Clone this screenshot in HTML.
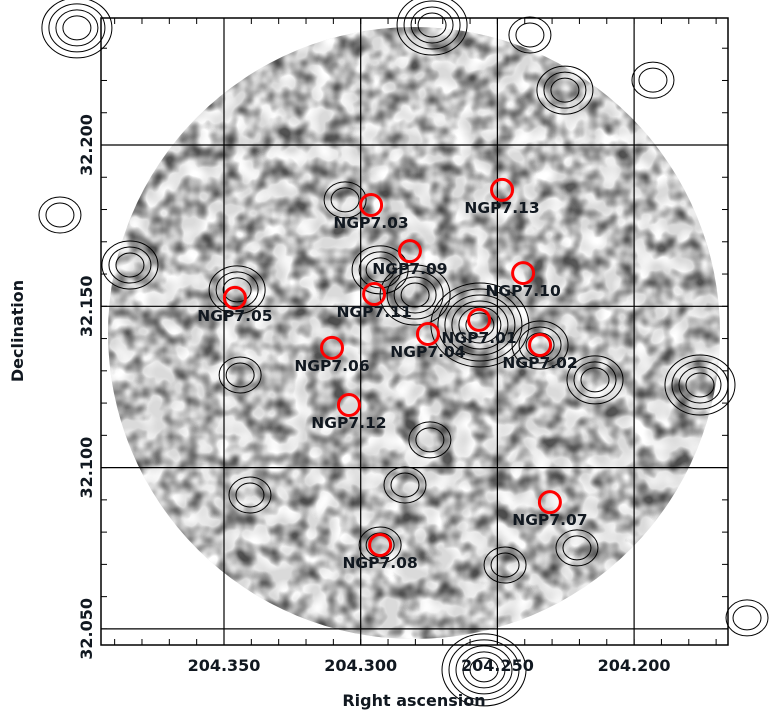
<!DOCTYPE html>
<html><head><meta charset="utf-8"><style>
html,body{margin:0;padding:0;background:#fff;}
svg{display:block;font-family:"DejaVu Sans","Liberation Sans",sans-serif;}
.lbl{font-weight:bold;font-size:15.5px;fill:#111820;}
.tick{font-weight:bold;font-size:16px;fill:#111820;}
</style></head><body>
<svg id="chart" width="775" height="719" viewBox="0 0 775 719">
<defs>
<filter id="noise" x="0" y="0" width="100%" height="100%">
<feTurbulence type="fractalNoise" baseFrequency="0.055" numOctaves="2" seed="11" result="t"/>
<feColorMatrix type="matrix" values="0 0 0 0 0  0 0 0 0 0  0 0 0 0 0  2.6 0 0 0 -1.05" in="t" result="a"/>
<feComposite in="a" in2="SourceGraphic" operator="in"/>
</filter>
<filter id="light" x="0" y="0" width="100%" height="100%">
<feTurbulence type="fractalNoise" baseFrequency="0.06" numOctaves="1" seed="3" result="t"/>
<feColorMatrix type="matrix" values="0 0 0 0 1  0 0 0 0 1  0 0 0 0 1  2.6 0 0 0 -0.9" in="t" result="a"/>
<feComposite in="a" in2="SourceGraphic" operator="in"/>
</filter>
<clipPath id="fr"><rect x="101" y="18" width="627" height="627"/></clipPath>
</defs>
<g id="img" clip-path="url(#fr)">
<circle cx="414" cy="333" r="306" fill="#dadada"/>
<circle cx="414" cy="333" r="306" fill="#fff" filter="url(#light)"/>
<circle cx="414" cy="333" r="306" fill="#fff" filter="url(#noise)" opacity="0.65"/>
</g>
<g id="grid" stroke="#000" stroke-width="1.2"></g>
<g id="contours" fill="none" stroke="#000" stroke-width="1"></g>
<rect x="101" y="18" width="627" height="627" fill="none" stroke="#000" stroke-width="1.5"/>
<g id="ticks" stroke="#000" stroke-width="1"></g>
<g id="ticklabels"></g>
<g id="sources"></g>
<text x="414" y="706" text-anchor="middle" class="tick">Right ascension</text>
<text x="0" y="0" text-anchor="middle" class="tick" transform="translate(23,331) rotate(-90)">Declination</text>
</svg>
<script>
const names=["NGP7.01","NGP7.02","NGP7.03","NGP7.04","NGP7.05","NGP7.06","NGP7.07","NGP7.08","NGP7.09","NGP7.10","NGP7.11","NGP7.12","NGP7.13"];
const ras=[204.2567,204.2344,204.2962,204.2754,204.3460,204.3105,204.2308,204.2929,204.2820,204.2406,204.2951,204.3043,204.2483];
const decs=[32.1458,32.1380,32.1814,32.1414,32.1526,32.1371,32.0893,32.0760,32.1671,32.1603,32.1538,32.1194,32.1861];
const raTicks=[204.350,204.300,204.250,204.200];
const decTicks=[32.200,32.150,32.100,32.050];
const raTickLabels=["204.350","204.300","204.250","204.200"];
const decTickLabels=["32.200","32.150","32.100","32.050"];
const cRa=[204.4038,204.2739,204.2381,204.2253,204.1931,204.3844,204.3452,204.4100,204.2801,204.2564,204.2344,204.2143,204.1759,204.2929,204.2472,204.2209,204.2549,204.1587,204.2929,204.3405,204.2838,204.2747,204.3441,204.3057];
const cDec=[32.2363,32.2372,32.2341,32.2170,32.2201,32.1628,32.1551,32.1783,32.1535,32.1442,32.1380,32.1272,32.1256,32.1613,32.0698,32.0751,32.0373,32.0534,32.0760,32.0915,32.0946,32.1086,32.1287,32.1830];
const cLev=[4,4,2,3,2,3,3,2,4,6,3,3,4,3,2,2,5,2,2,2,2,2,2,2];
const X=ra=>224+(204.350-ra)/0.05*136.7;
const Y=d=>145+(32.200-d)/0.05*161.3;
const NS="http://www.w3.org/2000/svg";
function mk(t,a,p){const e=document.createElementNS(NS,t);for(const k in a)e.setAttribute(k,a[k]);p.appendChild(e);return e;}
const grid=document.getElementById('grid');
raTicks.forEach(r=>{const l=mk('line',{x1:X(r),x2:X(r),y1:18,y2:645},grid);

});
decTicks.forEach(d=>{const l=mk('line',{x1:101,x2:728,y1:Y(d),y2:Y(d)},grid);

});
const tk=document.getElementById('ticks');
for(let i=-10;i<=20;i++){const r=204.350-i*0.01;const x=X(r);if(x>101&&x<728){mk('line',{x1:x,x2:x,y1:645,y2:639},tk);mk('line',{x1:x,x2:x,y1:18,y2:24},tk);}
const d=32.200-i*0.01;const y=Y(d);if(y>18&&y<645){mk('line',{x1:101,x2:107,y1:y,y2:y},tk);mk('line',{x1:728,x2:722,y1:y,y2:y},tk);}}
const tl=document.getElementById('ticklabels');
raTicks.forEach((r,i)=>{const t=mk('text',{x:X(r),y:671,'text-anchor':'middle',class:'tick'},tl);t.textContent=raTickLabels[i];

});
decTicks.forEach((d,i)=>{const t=mk('text',{x:0,y:0,'text-anchor':'middle',class:'tick',transform:`translate(92,${Y(d)}) rotate(-90)`},tl);t.textContent=decTickLabels[i];

});
const cg=document.getElementById('contours');
cRa.forEach((r,i)=>{const cx=X(r),cy=Y(cDec[i]);const n=cLev[i];
for(let k=0;k<n;k++){const e=mk('ellipse',{cx:cx,cy:cy,rx:7+(n-k)*7,ry:6+(n-k)*6},cg);

}});
const sg=document.getElementById('sources');
names.forEach((n,i)=>{const x=X(ras[i]),y=Y(decs[i]);
const c=mk('circle',{cx:x,cy:y,r:10.5,fill:'none',stroke:'#ff0000','stroke-width':3},sg);


const t=mk('text',{x:x,y:y+23,'text-anchor':'middle',class:'lbl'},sg);t.textContent=n;

});
</script>
</body></html>
